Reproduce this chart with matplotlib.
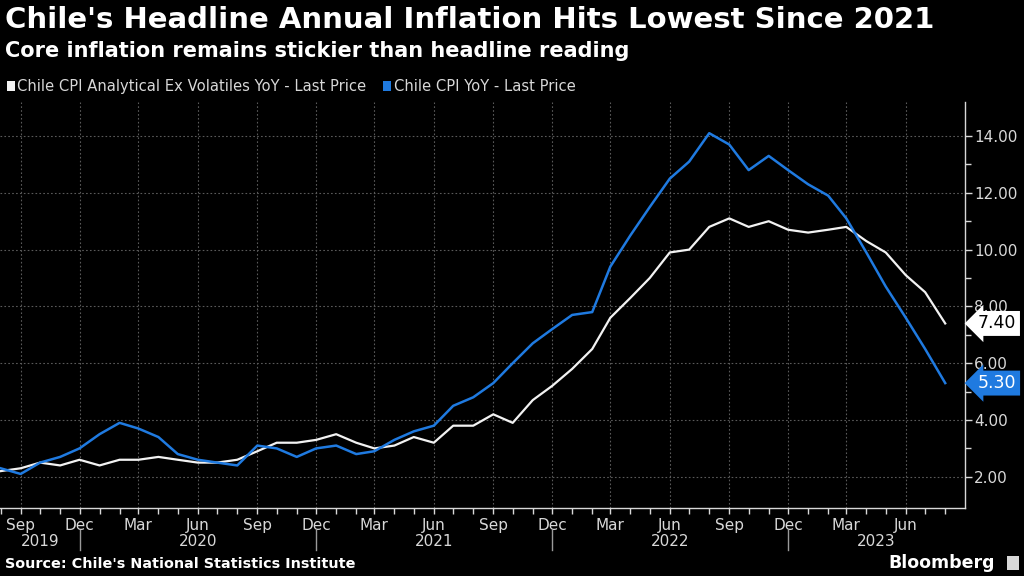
import matplotlib
matplotlib.use("Agg")
import matplotlib.pyplot as plt
import matplotlib.dates as mdates
import matplotlib.transforms as mtransforms
import pandas as pd

# monthly readings, Aug 2019 .. Aug 2023
months = pd.date_range("2019-08-01", "2023-08-01", freq="MS")
core_yoy = [2.2, 2.3, 2.5, 2.4, 2.6, 2.4, 2.6, 2.6, 2.7, 2.6, 2.5, 2.5, 2.6,
            2.9, 3.2, 3.2, 3.3, 3.5, 3.2, 3.0, 3.1, 3.4, 3.2, 3.8, 3.8,
            4.2, 3.9, 4.7, 5.2, 5.8, 6.5, 7.6, 8.3, 9.0, 9.9, 10.0, 10.8,
            11.1, 10.8, 11.0, 10.7, 10.6, 10.7, 10.8, 10.3, 9.9, 9.1, 8.5, 7.4]
headline_yoy = [2.3, 2.1, 2.5, 2.7, 3.0, 3.5, 3.9, 3.7, 3.4, 2.8, 2.6, 2.5, 2.4,
                3.1, 3.0, 2.7, 3.0, 3.1, 2.8, 2.9, 3.3, 3.6, 3.8, 4.5, 4.8,
                5.3, 6.0, 6.7, 7.2, 7.7, 7.8, 9.4, 10.5, 11.5, 12.5, 13.1, 14.1,
                13.7, 12.8, 13.3, 12.8, 12.3, 11.9, 11.1, 9.9, 8.7, 7.6, 6.5, 5.3]
series_names = ["Chile CPI Analytical Ex Volatiles YoY - Last Price",
                "Chile CPI YoY - Last Price"]
years = ["2019", "2020", "2021", "2022", "2023"]

WHITE = "#f2f2f2"
BLUE = "#1f7ae0"
GREY = "#d8d8d8"
plt.rcParams["font.family"] = ["DejaVu Sans"]

fig = plt.figure(figsize=(10.24, 5.76), dpi=100, facecolor="black")
ax = fig.add_axes([0.0, 0.118, 0.942, 0.705], facecolor="black")

ax.plot(months, core_yoy, color=WHITE, lw=1.6, zorder=3)
ax.plot(months, headline_yoy, color=BLUE, lw=1.8, zorder=3)

ax.set_xlim(pd.Timestamp("2019-07-31"), pd.Timestamp("2023-08-31"))
ax.set_ylim(0.9, 15.2)

# y axis on the right
ax.yaxis.tick_right()
ax.set_yticks(range(2, 15, 2))
ax.set_yticks(range(3, 15, 2), minor=True)
ax.yaxis.set_major_formatter(matplotlib.ticker.FormatStrFormatter("%.2f"))
ax.tick_params(axis="y", which="major", colors=GREY, labelsize=11, length=5, width=1, pad=2)
ax.tick_params(axis="y", which="minor", colors=GREY, length=4, width=1)

# x axis: monthly minor ticks, quarterly labels
ax.xaxis.set_major_locator(mdates.MonthLocator(bymonth=[3, 6, 9, 12]))
ax.xaxis.set_minor_locator(mdates.MonthLocator())
ax.xaxis.set_major_formatter(mdates.DateFormatter("%b"))
ax.tick_params(axis="x", which="major", colors=GREY, labelsize=11, length=4, width=1, pad=3)
ax.tick_params(axis="x", which="minor", colors=GREY, length=4, width=1)

for s in ["left", "top"]:
    ax.spines[s].set_visible(False)
for s in ["right", "bottom"]:
    ax.spines[s].set_color(GREY)
    ax.spines[s].set_linewidth(1)

ax.grid(True, which="major", color="#5a5a5a", linestyle=(0, (1.5, 2)), linewidth=0.8)

# year labels and separators under the month labels
bounds = [ax.get_xlim()[0]] + [mdates.date2num(pd.Timestamp(f"{y}-12-01")) for y in years[:-1]] + [ax.get_xlim()[1]]
tr = mtransforms.blended_transform_factory(ax.transData, ax.transAxes)
for i, y in enumerate(years):
    ax.text((bounds[i] + bounds[i + 1]) / 2, -0.082, y, transform=tr, ha="center", va="center",
            color=GREY, fontsize=11)
for b in bounds[1:-1]:
    ax.plot([b, b], [-0.054, -0.103], transform=tr, color="#9a9a9a", lw=1, clip_on=False)

# last-value tags
ytr = mtransforms.blended_transform_factory(ax.transAxes, ax.transData)
ax.text(1.014, core_yoy[-1], f"{core_yoy[-1]:.2f}", transform=ytr, ha="left", va="center",
        fontsize=12.5, color="black", zorder=5,
        bbox=dict(boxstyle="larrow,pad=0.2", fc="white", ec="none"))
ax.text(1.014, headline_yoy[-1], f"{headline_yoy[-1]:.2f}", transform=ytr, ha="left", va="center",
        fontsize=12.5, color="white", zorder=5,
        bbox=dict(boxstyle="larrow,pad=0.2", fc=BLUE, ec="none"))

# titles
fig.text(0.005, 0.965, "Chile's Headline Annual Inflation Hits Lowest Since 2021",
         color="white", fontsize=21, fontweight="bold", va="center", ha="left")
fig.text(0.005, 0.912, "Core inflation remains stickier than headline reading",
         color="white", fontsize=15, fontweight="bold", va="center", ha="left")

# legend
fig.patches.append(plt.Rectangle((0.007, 0.842), 0.008, 0.017, transform=fig.transFigure,
                                 fc=WHITE, ec="none"))
fig.text(0.017, 0.85, series_names[0], color=GREY, fontsize=10.6, va="center", ha="left")
fig.patches.append(plt.Rectangle((0.374, 0.842), 0.008, 0.017, transform=fig.transFigure,
                                 fc=BLUE, ec="none"))
fig.text(0.385, 0.85, series_names[1], color=GREY, fontsize=10.6, va="center", ha="left")

# footer
fig.text(0.005, 0.02, "Source: Chile's National Statistics Institute", color="white",
         fontsize=10.4, fontweight="bold", va="center", ha="left")
fig.text(0.972, 0.022, "Bloomberg", color="white", fontsize=12.5, fontweight="bold",
         va="center", ha="right")
fig.patches.append(plt.Rectangle((0.983, 0.01), 0.012, 0.024, transform=fig.transFigure,
                                 fc=GREY, ec="none"))

fig.savefig("out.png", dpi=100, facecolor="black")
